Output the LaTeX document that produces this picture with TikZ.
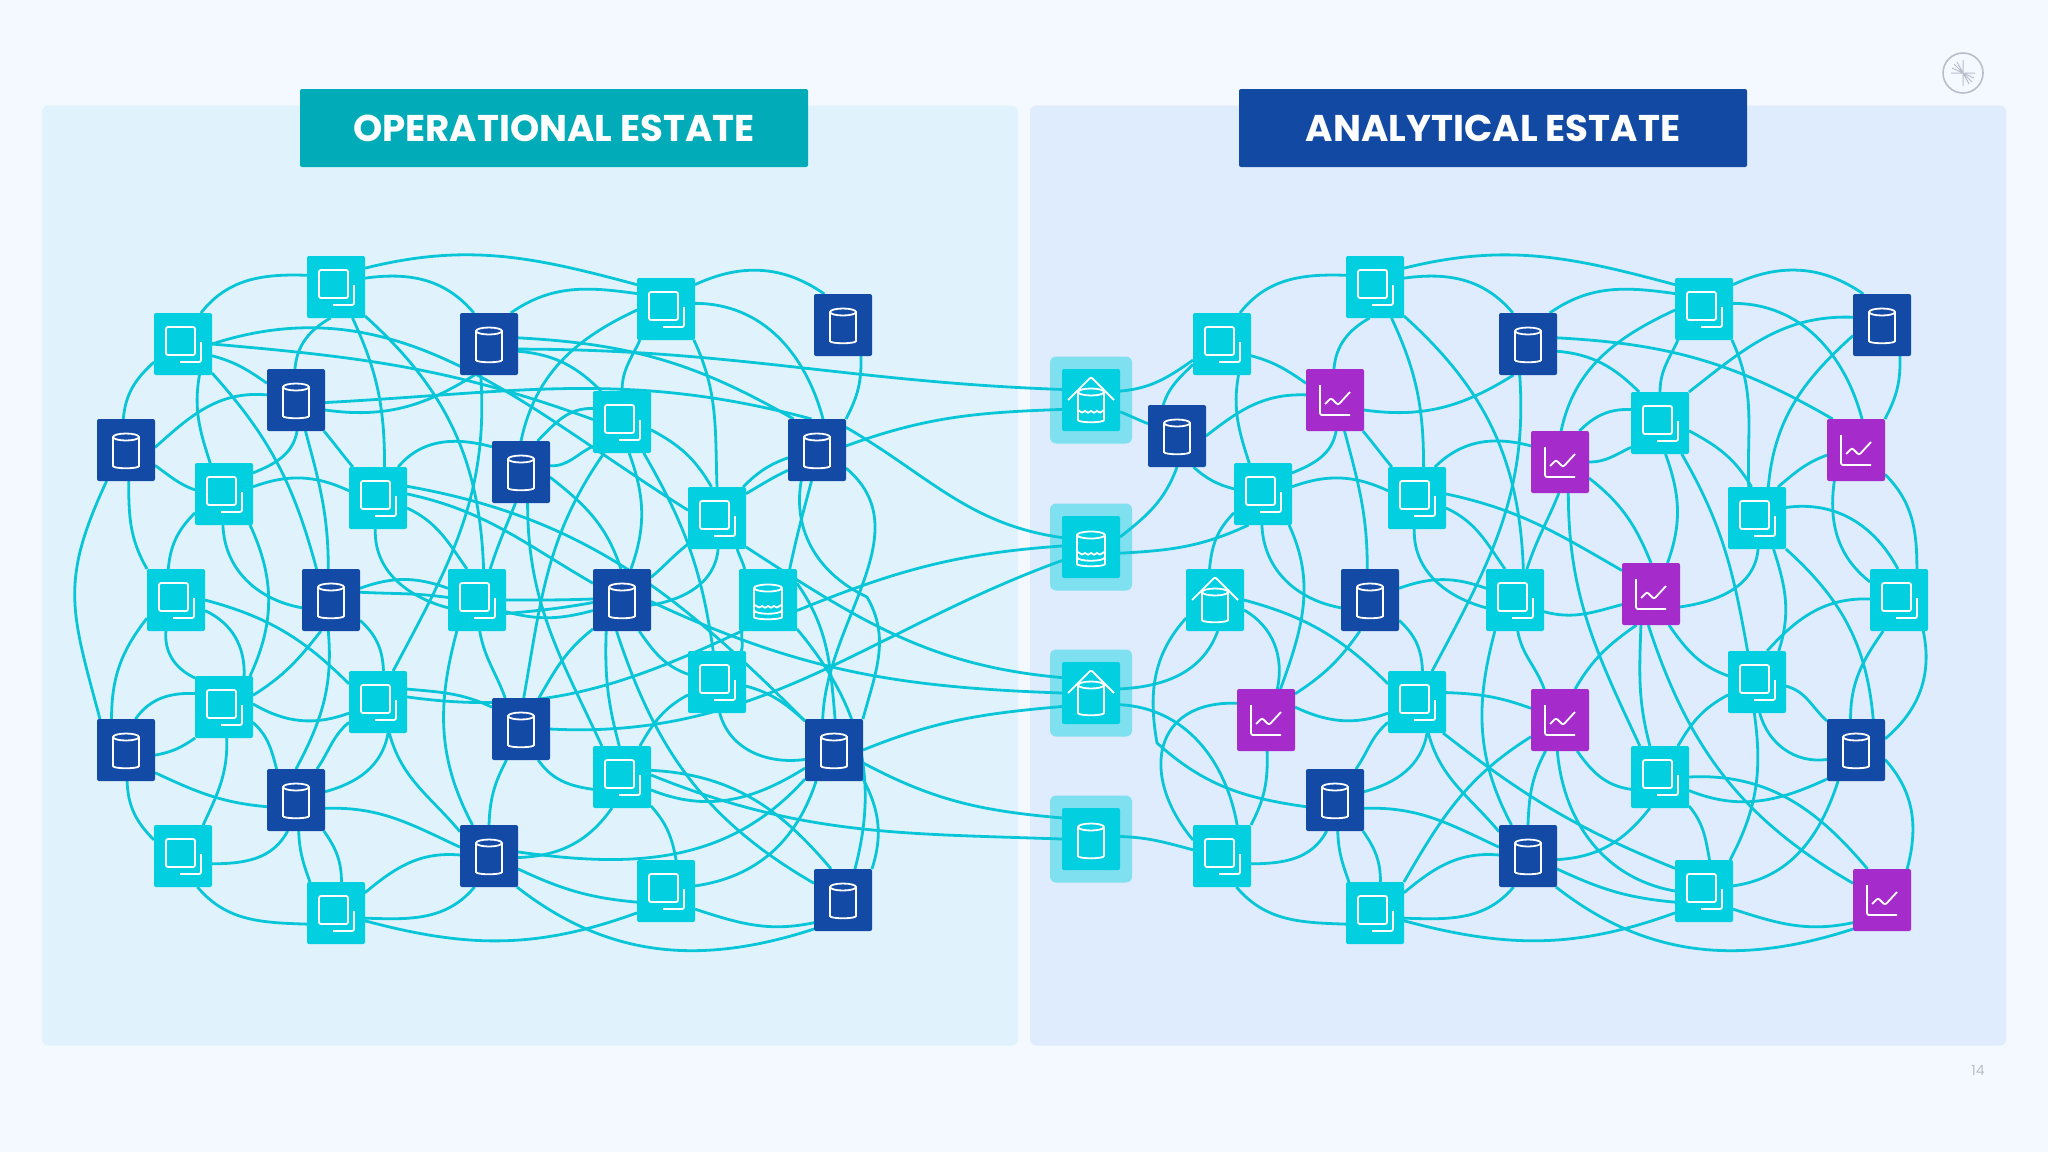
\documentclass[tikz,border=0pt]{standalone}
\usepackage{fontspec}
\setmainfont{Poppins}
\usepackage{tikz}
\usepackage{xcolor}
\definecolor{pagebg}{HTML}{F4F8FF}
\definecolor{oppanel}{HTML}{E0F3FC}
\definecolor{anpanel}{HTML}{DFECFD}
\definecolor{tealhead}{HTML}{01ABB8}
\definecolor{bluehead}{HTML}{124AA3}
\definecolor{boxcyan}{HTML}{02CFDF}
\definecolor{boxblue}{HTML}{134AA5}
\definecolor{boxpurple}{HTML}{A62BCB}
\definecolor{halo}{HTML}{7FE0F0}
\definecolor{wire}{HTML}{08C5D8}
\definecolor{greymark}{HTML}{B9BECB}
\pgfdeclarelayer{back}
\pgfdeclarelayer{wires}
\pgfsetlayers{back,wires,main}
\newcommand{\copyglyph}{\draw[glyph] (-17,-17) rectangle (12,11); \draw[glyph] (-3,18) -- (18,18) -- (18,-2);}
\newcommand{\cylglyph}[3]{\draw[glyph] (-#1,#2) -- (-#1,#3) .. controls (-#1,#3+5) and (#1,#3+5) .. (#1,#3) -- (#1,#2);
  \draw[glyph] (0,#2) ellipse [x radius=#1,y radius=3.5];}
\newcommand{\waveglyph}[1]{\draw[glyph] (-13,#1) .. controls (-9,#1+3) and (-8,#1+3) .. (-6,#1) .. controls (-4,#1+3) and (-2,#1+3) .. (0,#1) .. controls (2,#1+3) and (4,#1+3) .. (6,#1) .. controls (8,#1+3) and (9,#1+3) .. (13,#1);}
\newcommand{\roofglyph}{\draw[glyph] (-23,0) -- (0,-23) -- (23,0);}
\newcommand{\chartglyph}{\draw[glyph] (-15,-15) -- (-15,15) -- (15,15); \draw[glyph] (-10,4) -- (-4,-2) -- (3,5) -- (15,-8);}
\tikzset{
  glyph/.style={draw=white,line width=.9pt,line join=miter},
  link/.style={draw=wire,line width=1.4pt},
  boxbase/.style={rectangle,rounded corners=1pt,minimum width=29pt,minimum height=31pt,inner sep=0pt,outer sep=0pt},
  withglyph/.style={path picture={\begin{scope}[shift={(path picture bounding box.center)}]#1\end{scope}}},
  copybox/.style={boxbase,fill=boxcyan,withglyph={\copyglyph}},
  dbbox/.style={boxbase,fill=boxblue,withglyph={\cylglyph{13}{-13}{14}}},
  chartbox/.style={boxbase,fill=boxpurple,withglyph={\chartglyph}},
  lakebox/.style={boxbase,fill=boxcyan,withglyph={\cylglyph{14}{-12}{15}\waveglyph{5}\draw[glyph] (-14,10) .. controls (-14,15) and (14,15) .. (14,10);}},
  housebox/.style={boxbase,fill=boxcyan,withglyph={\cylglyph{13}{-8}{18}\roofglyph}},
  lakehousebox/.style={boxbase,fill=boxcyan,withglyph={\cylglyph{13}{-8}{18}\roofglyph\waveglyph{10}}},
  plainbox/.style={boxbase,fill=boxcyan,withglyph={\cylglyph{13}{-12}{15}}},
  haloback/.style={rectangle,rounded corners=3pt,fill=halo,minimum width=41pt,minimum height=43.5pt,inner sep=0pt},
  panel/.style={rectangle,rounded corners=3pt,inner sep=0pt,minimum height=470pt,minimum width=488pt},
  banner/.style={rectangle,rounded corners=1pt,inner sep=0pt,minimum width=254pt,minimum height=39pt,text=white,font=\bfseries\fontsize{18.6pt}{20pt}\selectfont},
}
\begin{document}
\begin{tikzpicture}[x=.5pt,y=-.5pt]
\useasboundingbox (0,0) rectangle (2048,1152);
\begin{pgfonlayer}{back}
\fill[pagebg] (0,0) rectangle (2048,1152);
\node[panel,fill=oppanel] (oppanel) at (530,575.5) {};
\node[panel,fill=anpanel] (anpanel) at (1518,575.5) {};
\node[haloback] (halo1) at (1091,400) {};
\node[haloback] (halo2) at (1091,547) {};
\node[haloback] (halo3) at (1091,693) {};
\node[haloback] (halo4) at (1091,839) {};
\end{pgfonlayer}
\node[banner,fill=tealhead] (ophead) at (554,128) {OPERATIONAL ESTATE};
\node[banner,fill=bluehead] (anhead) at (1493,128) {ANALYTICAL ESTATE};
\draw[greymark,line width=.8pt] (1963,73) circle (20);
\draw[greymark,line width=.5pt] (1951,73) -- (1975,73) (1963,60) -- (1963,86) (1963,73) -- (1954,64) (1963,73) -- (1957,62) (1963,73) -- (1952,68) (1963,73) -- (1972,82) (1963,73) -- (1969,84) (1963,73) -- (1974,78);
\node[text=greymark,font=\fontsize{7pt}{8pt}\selectfont,inner sep=0pt] (pageno) at (1978,1070) {14};
% operational side
\node[copybox] (op1) at (336,287) {};
\node[copybox] (op2) at (183,344) {};
\node[dbbox] (op3) at (489,344) {};
\node[dbbox] (op4) at (296,400) {};
\node[dbbox] (op5) at (126,450) {};
\node[copybox] (op6) at (224,494) {};
\node[copybox] (op7) at (378,498) {};
\node[dbbox] (op8) at (521,472) {};
\node[copybox] (op9) at (176,600) {};
\node[dbbox] (op10) at (331,600) {};
\node[copybox] (op11) at (477,600) {};
\node[copybox] (op12) at (666,309) {};
\node[dbbox] (op13) at (843,325) {};
\node[copybox] (op14) at (622,422) {};
\node[dbbox] (op15) at (817,450) {};
\node[copybox] (op16) at (717,518) {};
\node[dbbox] (op17) at (622,600) {};
\node[lakebox] (op18) at (768,600) {};
\node[copybox] (op19) at (224,707) {};
\node[copybox] (op20) at (378,702) {};
\node[dbbox] (op21) at (521,729) {};
\node[dbbox] (op22) at (126,750) {};
\node[dbbox] (op23) at (296,800) {};
\node[copybox] (op24) at (183,856) {};
\node[dbbox] (op25) at (489,856) {};
\node[copybox] (op26) at (336,913) {};
\node[copybox] (op27) at (717,682) {};
\node[dbbox] (op28) at (834,750) {};
\node[copybox] (op29) at (622,777) {};
\node[copybox] (op30) at (666,891) {};
\node[dbbox] (op31) at (843,900) {};
% hubs
\node[lakehousebox] (hub1) at (1091,400) {};
\node[lakebox] (hub2) at (1091,547) {};
\node[housebox] (hub3) at (1091,693) {};
\node[plainbox] (hub4) at (1091,839) {};
% analytical side
\node[copybox] (an1) at (1375,287) {};
\node[copybox] (an2) at (1222,344) {};
\node[dbbox] (an3) at (1528,344) {};
\node[chartbox] (an4) at (1335,400) {};
\node[dbbox] (an5) at (1177,436) {};
\node[copybox] (an6) at (1263,494) {};
\node[copybox] (an7) at (1417,498) {};
\node[chartbox] (an8) at (1560,462) {};
\node[housebox] (an9) at (1215,600) {};
\node[dbbox] (an10) at (1370,600) {};
\node[copybox] (an11) at (1515,600) {};
\node[copybox] (an12) at (1704,309) {};
\node[dbbox] (an13) at (1882,325) {};
\node[copybox] (an14) at (1660,423) {};
\node[chartbox] (an15) at (1856,450) {};
\node[copybox] (an16) at (1757,518) {};
\node[chartbox] (an17) at (1651,594) {};
\node[copybox] (an18) at (1899,600) {};
\node[chartbox] (an19) at (1266,720) {};
\node[copybox] (an20) at (1417,702) {};
\node[chartbox] (an21) at (1560,720) {};
\node[dbbox] (an23) at (1335,800) {};
\node[copybox] (an24) at (1222,856) {};
\node[dbbox] (an25) at (1528,856) {};
\node[copybox] (an26) at (1375,913) {};
\node[copybox] (an27) at (1757,682) {};
\node[dbbox] (an28) at (1856,750) {};
\node[copybox] (an29) at (1660,777) {};
\node[copybox] (an30) at (1704,891) {};
\node[chartbox] (an31) at (1882,900) {};
\coordinate (kinkop) at (867,597);
\coordinate (kinkan) at (1157,743);
\begin{pgfonlayer}{wires}
% operational links
\draw[link] (op2.60) to[out=52,in=178] (op1.158);
\draw[link] (op1.33) to[out=14,in=165] (op12.140);
\draw[link] (op1.17) to[out=8,in=130] (op3.116);
\draw[link] (op1.-100) to[out=210,in=85] (op4.92);
\draw[link] (op1.-62) to[out=-65,in=90] (op7.78);
\draw[link] (op1.-45) to[out=-42,in=92] (op11.78);
\draw[link] (op2.0) to[out=18,in=148] (op16.165);
\draw[link] (op2.0) to[out=-5,in=160] (op14.175);
\draw[link] (op2.-22) to[out=-15,in=145] (op4.150);
\draw[link] (op2.-62) to[out=-100,in=108] (op6.114);
\draw[link] (op2.-45) to[out=-48,in=105] (op10.115);
\draw[link] (op2.212) to[out=222,in=85] (op5.95);
\draw[link] (op4.170) to[out=175,in=42] (op5.5);
\draw[link] (op4.-88) to[out=-100,in=22] (op6.36);
\draw[link] (op4.-73) to[out=-75,in=90] (op10.95);
\draw[link] (op4.-48) to[out=-50,in=130] (op7.129);
\draw[link] (op5.-28) to[out=-35,in=160] (op6.172);
\draw[link] (op5.-85) to[out=-90,in=120] (op9.133);
\draw[link] (op5.-122) to[out=-115,in=105,looseness=1.2] (op22.130);
\draw[link] (op6.14) to[out=20,in=155] (op7.166);
\draw[link] (op6.213) to[out=225,in=85] (op9.104);
\draw[link] (op6.-92) to[out=-88,in=170] (op10.195);
\draw[link] (op6.-50) to[out=-65,in=65] (op19.50);
\draw[link] (op7.57) to[out=50,in=165] (op8.139);
\draw[link] (op7.-19) to[out=-25,in=125] (op11.108);
\draw[link] (op7.22) to[out=-10,in=135] (op28.135);
\draw[link] (op7.8) to[out=-12,in=150] (op17.150);
\draw[link] (op7.-95) to[out=-92,in=165] (op11.195);
\draw[link] (op4.-19) to[out=-8,in=212] (op3.-115);
\draw[link] (op4.-5) to[out=3,in=165] (op15.100);
\draw[link] (op3.12) to[out=-3,in=150] (op15.127);
\draw[link] (op15.38) to[out=-30,in=172] (hub2.162);
\draw[link] (op3.-10) to[out=0,in=178] (hub1.160);
\draw[link] (op3.-14) to[out=-5,in=135] (op14.124);
\draw[link] (op3.-105) to[out=-86,in=62] (op20.64);
\draw[link] (op12.152) to[out=172,in=35] (op3.55);
\draw[link] (op12.182) to[out=205,in=78] (op8.90);
\draw[link] (op12.-130) to[out=-115,in=90] (op14.90);
\draw[link] (op12.-48) to[out=-65,in=92] (op16.90);
\draw[link] (op12.11) to[out=0,in=105] (op15.79);
\draw[link] (op12.40) to[out=25,in=145] (op13.121);
\draw[link] (op13.-60) to[out=-88,in=62] (op15.47);
\draw[link] (op15.8) to[out=20,in=182] (hub1.198);
\draw[link] (op15.195) to[out=200,in=45] (op16.50);
\draw[link] (op15.215) to[out=205,in=30] (op16.40);
\draw[link] (op15.-117) to[out=-100,in=155] (kinkop) to[out=-60,in=75] (op28.47);
\draw[link] (op15.-32) to[out=-40,in=88] (op28.110);
\draw[link] (op15.-100) to[out=-105,in=78] (op18.55);
\draw[link] (op14.155) to[out=178,in=45] (op8.62);
\draw[link] (op14.-140) to[out=205,in=-2] (op8.12);
\draw[link] (op14.-120) to[out=-125,in=80] (op21.85);
\draw[link] (op14.-77) to[out=-70,in=70] (op17.74);
\draw[link] (op14.-55) to[out=-60,in=98] (op27.97);
\draw[link] (op14.-15) to[out=-28,in=120] (op16.100);
\draw[link] (op8.-10) to[out=-38,in=108] (op17.92);
\draw[link] (op8.-78) to[out=-90,in=115] (op29.123);
\draw[link] (op8.-100) to[out=-112,in=72] (op11.67);
\draw[link] (op16.222) to[out=218,in=40] (op17.38);
\draw[link] (op16.-88) to[out=-95,in=10] (op17.-10);
\draw[link] (op16.-57) to[out=-72,in=105] (op18.127);
\draw[link] (op16.-45) to[out=-33,in=175] (hub3.152);
\draw[link] (op17.-3) to[out=-25,in=178] (hub3.180);
\draw[link] (op18.-20) to[out=22,in=184] (hub2.178);
\draw[link] (op21.0) to[out=-3,in=200] (hub2.205);
\draw[link] (op18.-130) to[out=-100,in=70] (op27.52);
\draw[link] (op20.10) to[out=-8,in=205] (op18.-130);
\draw[link] (op18.30) to[out=-55,in=95] (op28.88);
\draw[link] (op18.-45) to[out=-50,in=75] (op31.69);
\draw[link] (op17.-61) to[out=-55,in=160] (op27.165);
\draw[link] (op27.204) to[out=208,in=60] (op29.60);
\draw[link] (op27.-8) to[out=-15,in=138] (op28.135);
\draw[link] (op27.-85) to[out=-75,in=188] (op28.198);
\draw[link] (op17.-100) to[out=-72,in=150] (op31.150);
\draw[link] (op17.-117) to[out=-92,in=105] (op29.95);
\draw[link] (op17.-135) to[out=218,in=60] (op21.60);
\draw[link] (op21.-61) to[out=-55,in=172] (op29.203);
\draw[link] (op21.-115) to[out=-118,in=88] (op25.90);
\draw[link] (op29.13) to[out=-3,in=130] (op31.111);
\draw[link] (op29.4) to[out=-22,in=178] (hub4.180);
\draw[link] (op29.-24) to[out=-22,in=212] (op28.212);
\draw[link] (op29.-108) to[out=-125,in=2] (op25.-3);
\draw[link] (op29.-45) to[out=-48,in=100] (op30.72);
\draw[link] (op28.-120) to[out=-108,in=8] (op30.10);
\draw[link] (op25.8) to[out=-8,in=228] (op28.225);
\draw[link] (op28.-45) to[out=-62,in=72] (op31.47);
\draw[link] (op28.0) to[out=22,in=185] (hub3.205);
\draw[link] (op28.-24) to[out=-28,in=175] (hub4.144);
\draw[link] (op31.218) to[out=192,in=-18] (op30.-32);
\draw[link] (op31.225) to[out=198,in=-38] (op25.-48);
\draw[link] (op26.-15) to[out=-15,in=200] (op30.217);
\draw[link] (op25.-24) to[out=-25,in=175] (op30.201);
\draw[link] (op9.-108) to[out=-95,in=155] (op19.135);
\draw[link] (op9.-20) to[out=-25,in=88] (op19.57);
\draw[link] (op9.0) to[out=-15,in=135] (op20.148);
\draw[link] (op9.212) to[out=232,in=90] (op22.115);
\draw[link] (op22.73) to[out=55,in=178] (op19.155);
\draw[link] (op22.-10) to[out=10,in=215] (op19.-133);
\draw[link] (op22.-38) to[out=-25,in=175] (op23.193);
\draw[link] (op22.-88) to[out=-88,in=135] (op24.151);
\draw[link] (op19.22) to[out=32,in=232] (op10.-108);
\draw[link] (op19.6) to[out=-30,in=200] (op20.201);
\draw[link] (op19.-28) to[out=-42,in=105] (op23.122);
\draw[link] (op19.-85) to[out=-88,in=65] (op24.57);
\draw[link] (op10.-95) to[out=-85,in=62] (op23.90);
\draw[link] (op10.-35) to[out=-42,in=92] (op20.80);
\draw[link] (op10.22) to[out=20,in=160] (op11.158);
\draw[link] (op10.15) to[out=-3,in=172] (op11.175);
\draw[link] (op20.215) to[out=220,in=55] (op23.56);
\draw[link] (op20.-72) to[out=-100,in=15] (op23.16);
\draw[link] (op20.-70) to[out=-75,in=130] (op25.140);
\draw[link] (op20.24) to[out=-5,in=155] (op21.143);
\draw[link] (op11.-123) to[out=-105,in=118] (op25.118);
\draw[link] (op11.-85) to[out=-80,in=110] (op21.117);
\draw[link] (op11.0) to[out=0,in=182] (op17.178);
\draw[link] (op11.-25) to[out=5,in=190] (op17.185);
\draw[link] (op11.-22) to[out=-15,in=195] (op17.200);
\draw[link] (op23.-105) to[out=-118,in=0] (op24.-15);
\draw[link] (op23.-85) to[out=-88,in=110] (op26.130);
\draw[link] (op23.-48) to[out=-55,in=90] (op26.80);
\draw[link] (op23.-16) to[out=2,in=155] (op25.163);
\draw[link] (op24.-65) to[out=-50,in=178] (op26.201);
\draw[link] (op25.178) to[out=175,in=40] (op26.35);
\draw[link] (op25.-115) to[out=-130,in=-2] (op26.-10);
% hub links
\draw[link] (hub1.17) to[out=5,in=215] (an2.209);
\draw[link] (hub1.-22) to[out=-22,in=158] (an5.157);
\draw[link] (an5.-90) to[out=-110,in=38] (hub2.19);
\draw[link] (hub2.-12) to[out=3,in=205] (an6.-115);
\draw[link] (an9.-85) to[out=-110,in=3] (hub3.8);
\draw[link] (hub3.-22) to[out=-3,in=100] (an24.64);
\draw[link] (hub4.5) to[out=-2,in=165] (an24.168);
% analytical links
\draw[link] (an2.60) to[out=52,in=178] (an1.158);
\draw[link] (an1.33) to[out=14,in=165] (an12.140);
\draw[link] (an1.17) to[out=8,in=130] (an3.116);
\draw[link] (an1.-100) to[out=210,in=85] (an4.92);
\draw[link] (an1.-62) to[out=-65,in=90] (an7.78);
\draw[link] (an1.-45) to[out=-42,in=92] (an11.75);
\draw[link] (an2.-22) to[out=-15,in=145] (an4.150);
\draw[link] (an2.-62) to[out=-100,in=108] (an6.114);
\draw[link] (an2.215) to[out=225,in=72] (an5.114);
\draw[link] (an5.0) to[out=38,in=178] (an4.170);
\draw[link] (an5.-62) to[out=-42,in=165] (an6.170);
\draw[link] (an4.-19) to[out=-8,in=212] (an3.-115);
\draw[link] (an4.-88) to[out=-100,in=22] (an6.36);
\draw[link] (an4.-73) to[out=-75,in=90] (an10.95);
\draw[link] (an4.-48) to[out=-50,in=130] (an7.129);
\draw[link] (an6.14) to[out=20,in=155] (an7.166);
\draw[link] (an6.213) to[out=225,in=85] (an9.100);
\draw[link] (an6.-92) to[out=-88,in=170] (an10.195);
\draw[link] (an6.-50) to[out=-65,in=70] (an19.65);
\draw[link] (an7.60) to[out=45,in=165] (an8.151);
\draw[link] (an7.-19) to[out=-25,in=125] (an11.108);
\draw[link] (an7.8) to[out=-12,in=150] (an17.141);
\draw[link] (an7.-95) to[out=-92,in=165] (an11.195);
\draw[link] (an3.12) to[out=-3,in=150] (an15.127);
\draw[link] (an3.-14) to[out=-5,in=135] (an14.124);
\draw[link] (an3.-105) to[out=-86,in=62] (an20.64);
\draw[link] (an12.152) to[out=172,in=35] (an3.55);
\draw[link] (an12.182) to[out=205,in=78] (an8.88);
\draw[link] (an12.-130) to[out=-115,in=90] (an14.90);
\draw[link] (an12.-48) to[out=-65,in=92] (an16.105);
\draw[link] (an12.11) to[out=0,in=105] (an15.79);
\draw[link] (an12.40) to[out=25,in=145] (an13.121);
\draw[link] (an13.-60) to[out=-88,in=62] (an15.47);
\draw[link] (an14.47) to[out=38,in=178] (an13.165);
\draw[link] (an16.70) to[out=85,in=222] (an13.200);
\draw[link] (an16.56) to[out=40,in=200] (an15.190);
\draw[link] (an16.20) to[out=8,in=118] (an18.92);
\draw[link] (an16.-62) to[out=-72,in=72] (an27.55);
\draw[link] (an16.-47) to[out=-42,in=95] (an28.61);
\draw[link] (an16.-88) to[out=-95,in=8] (an17.-24);
\draw[link] (an15.-125) to[out=-98,in=142] (an18.148);
\draw[link] (an15.-40) to[out=-45,in=90] (an18.60);
\draw[link] (an18.178) to[out=178,in=48] (an27.72);
\draw[link] (an18.-117) to[out=-125,in=90] (an28.100);
\draw[link] (an18.-52) to[out=-78,in=40] (an28.21);
\draw[link] (an8.58) to[out=45,in=178] (an14.155);
\draw[link] (an8.0) to[out=0,in=205] (an14.-140);
\draw[link] (an8.-92) to[out=-112,in=72] (an11.69);
\draw[link] (an8.-29) to[out=-38,in=112] (an17.90);
\draw[link] (an8.-75) to[out=-90,in=115] (an29.123);
\draw[link] (an14.-15) to[out=-28,in=120] (an16.100);
\draw[link] (an14.-80) to[out=-70,in=70] (an17.62);
\draw[link] (an14.-55) to[out=-60,in=100] (an27.107);
\draw[link] (an11.-85) to[out=-80,in=110] (an21.117);
\draw[link] (an11.-123) to[out=-105,in=118] (an25.118);
\draw[link] (an11.-22) to[out=-15,in=195] (an17.200);
\draw[link] (an21.-115) to[out=-118,in=88] (an25.90);
\draw[link] (an21.-95) to[out=-85,in=170] (an30.180);
\draw[link] (an21.-61) to[out=-55,in=172] (an29.203);
\draw[link] (an21.210) to[out=212,in=60] (an26.47);
\draw[link] (an17.-115) to[out=215,in=60] (an21.64);
\draw[link] (an17.-108) to[out=-92,in=105] (an29.108);
\draw[link] (an17.-95) to[out=-72,in=150] (an31.150);
\draw[link] (an17.-60) to[out=-55,in=160] (an27.168);
\draw[link] (an27.204) to[out=208,in=60] (an29.60);
\draw[link] (an27.-8) to[out=-15,in=138] (an28.135);
\draw[link] (an27.-85) to[out=-75,in=188] (an28.198);
\draw[link] (an27.-95) to[out=-82,in=62] (an30.50);
\draw[link] (an28.-120) to[out=-108,in=8] (an30.10);
\draw[link] (an28.-18) to[out=-48,in=75] (an31.51);
\draw[link] (an29.0) to[out=3,in=130] (an31.115);
\draw[link] (an29.-25) to[out=-22,in=205] (an28.-135);
\draw[link] (an29.-108) to[out=-128,in=3] (an25.-7);
\draw[link] (an29.-45) to[out=-50,in=100] (an30.80);
\draw[link] (an31.218) to[out=192,in=-18] (an30.-32);
\draw[link] (an31.225) to[out=198,in=-38] (an25.-48);
\draw[link] (an26.-15) to[out=-15,in=200] (an30.217);
\draw[link] (an25.-24) to[out=-25,in=175] (an30.201);
\draw[link] (an20.-50) to[out=-38,in=158] (an30.142);
\draw[link] (an9.-19) to[out=-30,in=78] (an19.70);
\draw[link] (an9.0) to[out=-15,in=135] (an20.148);
\draw[link] (an9.212) to[out=228,in=100] (kinkan) to[out=-42,in=172] (an23.193);
\draw[link] (an19.150) to[out=178,in=130,looseness=1.5] (an24.151);
\draw[link] (an19.-88) to[out=-88,in=62] (an24.47);
\draw[link] (an19.42) to[out=33,in=235] (an10.-108);
\draw[link] (an19.24) to[out=-25,in=200] (an20.201);
\draw[link] (an10.-35) to[out=-42,in=92] (an20.80);
\draw[link] (an10.22) to[out=20,in=160] (an11.158);
\draw[link] (an20.18) to[out=-2,in=160] (an21.158);
\draw[link] (an20.215) to[out=220,in=55] (an23.56);
\draw[link] (an20.-72) to[out=-100,in=15] (an23.16);
\draw[link] (an20.-70) to[out=-75,in=130] (an25.140);
\draw[link] (an23.-105) to[out=-118,in=0] (an24.-15);
\draw[link] (an23.-85) to[out=-88,in=110] (an26.130);
\draw[link] (an23.-48) to[out=-55,in=90] (an26.80);
\draw[link] (an23.-16) to[out=2,in=155] (an25.163);
\draw[link] (an24.-65) to[out=-50,in=178] (an26.201);
\draw[link] (an25.178) to[out=175,in=40] (an26.35);
\draw[link] (an25.-115) to[out=-130,in=-2] (an26.-10);
\end{pgfonlayer}
\end{tikzpicture}
\end{document}
